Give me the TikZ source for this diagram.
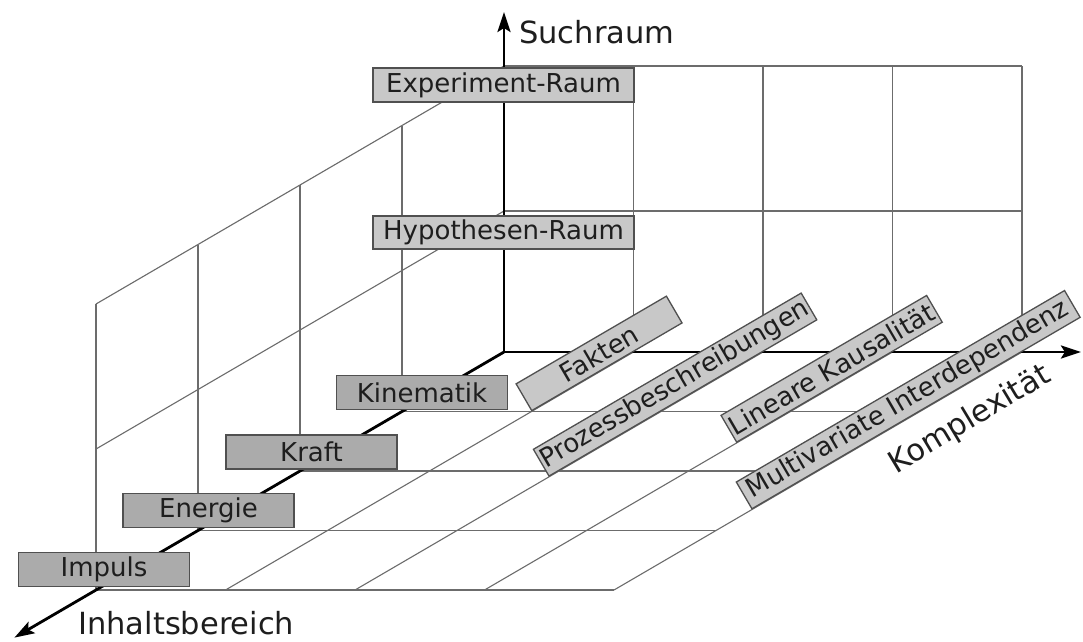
\documentclass[tikz,border=0pt]{standalone}
\usepackage{fontspec}
\setmainfont{DejaVu Sans}
\usetikzlibrary{arrows.meta}
\definecolor{gridgray}{HTML}{6C6C6C}
\definecolor{boxlight}{HTML}{C8C8C8}
\definecolor{boxdark}{HTML}{ABABAB}
\definecolor{boxedge}{HTML}{505050}
\definecolor{inkdark}{HTML}{1E1E1E}
\newcommand\lblfont{\fontsize{26}{31}\selectfont}
\newcommand\axfont{\fontsize{30.5}{36}\selectfont}
\begin{document}
\begin{tikzpicture}[x=1pt,y=-1pt,
 gridline/.style={draw=gridgray,line width=1.1pt},
 axisline/.style={draw=black,line width=2.8pt,-{Stealth[length=20pt,width=13pt,inset=4pt]}},
 labelbox/.style={draw=boxedge,line width=1.3pt,fill=boxlight,inner sep=0pt,font=\lblfont,text=inkdark},
 catbox/.style={labelbox,minimum width=261pt,minimum height=34pt},
 topicbox/.style={labelbox,fill=boxdark,minimum width=171pt,minimum height=34pt},
 levelbox/.style={labelbox,minimum height=31pt,rotate=30.26,anchor=south west},
 axislabel/.style={font=\axfont,text=inkdark,inner sep=0pt}]
\fill[white] (0,0) rectangle (1083,641);
\useasboundingbox (0,0) rectangle (1083,641);

\begin{scope}[shift={(504,352)},x={(129.5pt,0pt)},y={(-102pt,-59.5pt)},z={(0pt,1pt)}]
 % back wall
 \foreach \c in {1,...,4} \draw[gridline] (\c,0,0) -- (\c,0,286);
 \foreach \h in {141,286} \draw[gridline] (0,0,\h) -- (4,0,\h);
 % left wall
 \foreach \d in {1,...,4} \draw[gridline] (0,\d,0) -- (0,\d,286);
 \foreach \h in {141,286} \draw[gridline] (0,0,\h) -- (0,4,\h);
 % floor
 \foreach \d in {1,...,4} \draw[gridline] (0,\d,0) -- (4,\d,0);
 \foreach \c in {1,...,4} \draw[gridline] (\c,0,0) -- (\c,4,0);
 \coordinate (O) at (0,0,0);
 \coordinate (tipUp) at (0,0,340);
 \coordinate (tipRight) at (4.455,0,0);
 \coordinate (tipFront) at (0,4.8,0);
 \coordinate (fak) at (1,1,0);
 \coordinate (pro) at (2,2.1,0);
 \coordinate (lin) at (3,1.53,0);
 \coordinate (mul) at (4,2.65,0);
\end{scope}

% axes
\draw[axisline] (O) -- (tipUp);
\draw[axisline] (O) -- (tipRight);
\draw[axisline] (O) -- (tipFront);

% axis labels
\node[axislabel,anchor=base west] (such) at (519,43) {Suchraum};
\node[axislabel,anchor=base west] (inhalt) at (78,634) {Inhaltsbereich};
\node[axislabel,rotate=31] (komp) at (970,420) {Komplexität};

% search space boxes
\node[catbox] (exp) at (503.5,85) {Experiment-Raum};
\node[catbox,minimum height=33pt] (hyp) at (503.5,232.5) {Hypothesen-Raum};

% content boxes
\node[topicbox] (kin) at (422,392.5) {Kinematik};
\node[topicbox] (kraft) at (311.5,452) {Kraft};
\node[topicbox] (energie) at (208.5,510.5) {Energie};
\node[topicbox] (impuls) at (104,569.5) {Impuls};

% complexity boxes
\node[levelbox,minimum width=174pt] (fakten) at (fak) {Fakten};
\node[levelbox,minimum width=310pt] (prozess) at (pro) {Prozessbeschreibungen};
\node[levelbox,minimum width=238pt] (linear) at (lin) {Lineare Kausalität};
\node[levelbox,minimum width=380pt] (multi) at (mul) {Multivariate Interdependenz};
\end{tikzpicture}
\end{document}
